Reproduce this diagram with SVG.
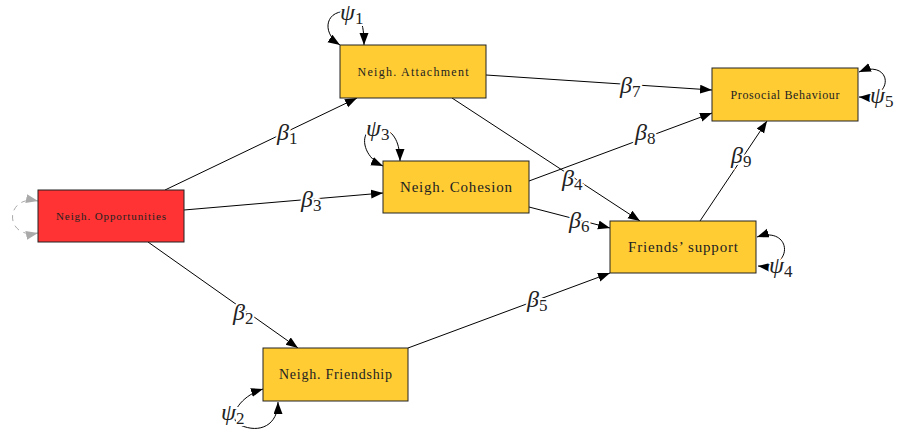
<svg xmlns="http://www.w3.org/2000/svg" width="898" height="432" viewBox="0 0 898 432">
<defs>
<marker id="ah" markerUnits="userSpaceOnUse" markerWidth="13" markerHeight="10" refX="12" refY="4.5" orient="auto-start-reverse"><path d="M0,0 L12,4.5 L0,9 z" fill="#000"/></marker>
<marker id="ahg" markerUnits="userSpaceOnUse" markerWidth="13" markerHeight="10" refX="12" refY="4.5" orient="auto-start-reverse"><path d="M0,0 L12,4.5 L0,9 z" fill="#aaa"/></marker>
<style>
.box{stroke:#222;stroke-width:1}
.y{fill:#ffcc33}
.r{fill:#ff3333}
.nt{font-family:"Liberation Serif","DejaVu Serif",serif;fill:#222;text-anchor:middle;dominant-baseline:central}
.e{fill:none;stroke:#000;stroke-width:1;marker-end:url(#ah)}
.l{fill:none;stroke:#000;stroke-width:1;marker-start:url(#ah);marker-end:url(#ah)}
.lg{fill:none;stroke:#aaa;stroke-width:1;stroke-dasharray:6 5;marker-start:url(#ahg);marker-end:url(#ahg)}
.lab{font-family:"Liberation Serif","DejaVu Serif",serif;font-style:italic;font-size:24px;fill:#222;stroke:#fff;stroke-width:4;paint-order:stroke}
.sub{font-style:normal;font-size:17px}
</style>
</defs>
<g id="connectors">
<path class="e" d="M165,190 L357,98"/>
<path class="e" d="M184,210 L383,193"/>
<path class="e" d="M148,242 L298,348"/>
<path class="e" d="M486,75 L712,90"/>
<path class="e" d="M452,98 L640,221"/>
<path class="e" d="M529,181 L712,113"/>
<path class="e" d="M529,207 L610,228"/>
<path class="e" d="M408,348 L610,273"/>
<path class="e" d="M700,221 L767,121"/>
<path class="l" d="M340,45 C320,32 326,8 350,12 C362,14 364,28 364,45"/>
<path class="l" d="M383,166 C360,156 358,126 380,128 C395,130 400,145 400,161"/>
<path class="l" d="M263,389 C240,396 226,418 240,425 C260,434 278,425 278,402"/>
<path class="l" d="M757,237 C792,225 795,270 758,266"/>
<path class="l" d="M859,72 C892,58 896,100 859,97"/>
<path class="lg" d="M38,201 C4,194 4,240 38,233"/>
<text class="lab" x="277" y="140">β<tspan class="sub" dy="4">1</tspan></text>
<text class="lab" x="233" y="320">β<tspan class="sub" dy="4">2</tspan></text>
<text class="lab" x="301" y="207">β<tspan class="sub" dy="4">3</tspan></text>
<text class="lab" x="562" y="186">β<tspan class="sub" dy="4">4</tspan></text>
<text class="lab" x="527" y="307">β<tspan class="sub" dy="4">5</tspan></text>
<text class="lab" x="569" y="228">β<tspan class="sub" dy="4">6</tspan></text>
<text class="lab" x="620" y="93">β<tspan class="sub" dy="4">7</tspan></text>
<text class="lab" x="635" y="140">β<tspan class="sub" dy="4">8</tspan></text>
<text class="lab" x="731" y="163">β<tspan class="sub" dy="4">9</tspan></text>
<text class="lab" x="340" y="20">ψ<tspan class="sub" dy="4">1</tspan></text>
<text class="lab" x="221" y="420">ψ<tspan class="sub" dy="4">2</tspan></text>
<text class="lab" x="366" y="136">ψ<tspan class="sub" dy="4">3</tspan></text>
<text class="lab" x="769" y="273">ψ<tspan class="sub" dy="4">4</tspan></text>
<text class="lab" x="870" y="103">ψ<tspan class="sub" dy="4">5</tspan></text>
</g>
<g id="opportunities">
<rect class="box r" x="38" y="190" width="146" height="52"/>
<text class="nt" x="111" y="216" font-size="11" textLength="110" lengthAdjust="spacing">Neigh. Opportunities</text>
</g>
<g id="attachment">
<rect class="box y" x="340" y="45" width="146" height="53"/>
<text class="nt" x="413" y="71.5" font-size="12" textLength="111" lengthAdjust="spacing">Neigh. Attachment</text>
</g>
<g id="cohesion">
<rect class="box y" x="383" y="161" width="146" height="52"/>
<text class="nt" x="456" y="187" font-size="15" textLength="112" lengthAdjust="spacing">Neigh. Cohesion</text>
</g>
<g id="prosocial">
<rect class="box y" x="712" y="68" width="146" height="53"/>
<text class="nt" x="785" y="94.5" font-size="12" textLength="109" lengthAdjust="spacing">Prosocial Behaviour</text>
</g>
<g id="friends-support">
<rect class="box y" x="610" y="221" width="146" height="52"/>
<text class="nt" x="683" y="247" font-size="15" textLength="110" lengthAdjust="spacing">Friends’ support</text>
</g>
<g id="friendship">
<rect class="box y" x="263" y="348" width="145" height="53"/>
<text class="nt" x="335.5" y="374.5" font-size="14" textLength="113" lengthAdjust="spacing">Neigh. Friendship</text>
</g>
</svg>
